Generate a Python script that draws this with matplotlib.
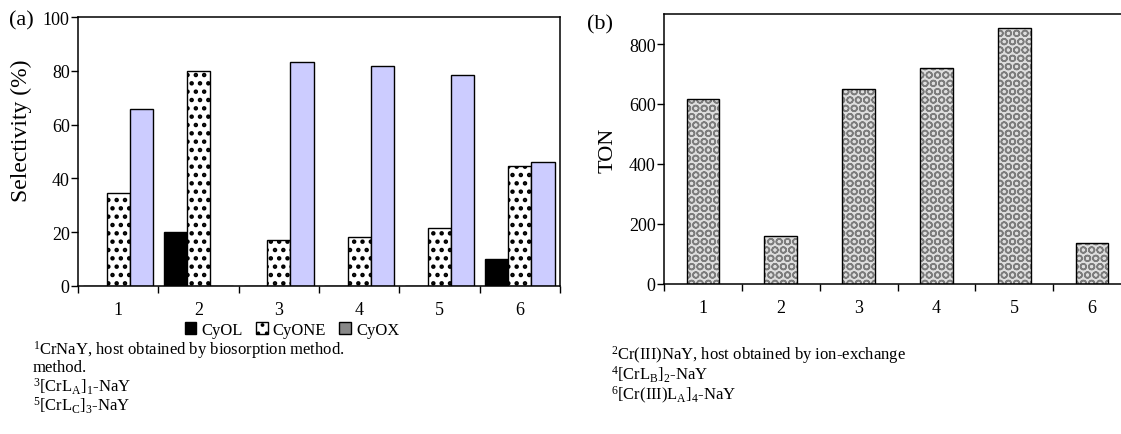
import numpy as np
import matplotlib.pyplot as plt
from matplotlib.patches import Patch

plt.rcParams['font.family'] = ['Liberation Serif', 'DejaVu Serif']
plt.rcParams['mathtext.fontset'] = 'custom'
plt.rcParams['mathtext.rm'] = 'Liberation Serif'
plt.rcParams['mathtext.it'] = 'Liberation Serif:italic'

# datos
categorias = ['1', '2', '3', '4', '5', '6']
cyol = [0, 20.1, 0, 0, 0, 9.8]
cyone = [34.7, 80.0, 17.0, 18.3, 21.6, 44.6]
cyox = [65.8, 0, 83.2, 81.7, 78.6, 46.0]
ton = [618, 160, 651, 719, 855, 138]

notas_a = [r'$^{1}$CrNaY, host obtained by biosorption method.',
           'method.',
           r'$^{3}$[CrL$_{\rm A}$]$_{1}$-NaY',
           r'$^{5}$[CrL$_{\rm C}$]$_{3}$-NaY']
notas_b = [r'$^{2}$Cr(III)NaY, host obtained by ion-exchange',
           r'$^{4}$[CrL$_{\rm B}$]$_{2}$-NaY',
           r'$^{6}$[Cr(III)L$_{\rm A}$]$_{4}$-NaY']

W, H = 1121, 435
fig = plt.figure(figsize=(W / 100, H / 100), dpi=100)

x = np.arange(1, len(categorias) + 1)

# ---- panel (a)
ax1 = fig.add_axes([78 / W, 1 - 286.7 / H, 482 / W, 268.4 / H])
w = 0.29
ax1.bar(x - w, cyol, w, color='black', edgecolor='black', linewidth=1)
plt.rcParams['hatch.linewidth'] = 2.0
ax1.bar(x, cyone, w, color='white', edgecolor='black', linewidth=1, hatch='..')
ax1.bar(x + w, cyox, w, color='#ccccff', edgecolor='black', linewidth=1)
ax1.set_xlim(0.5, 6.5)
ax1.set_ylim(0, 100)
ax1.set_yticks([0, 20, 40, 60, 80, 100])
ax1.set_ylabel('Selectivity (%)', fontsize=17)
ax1.yaxis.set_label_coords(-0.095, 0.58)

# ---- panel (b)
ax2 = fig.add_axes([664 / W, 1 - 285 / H, 467 / W, 270 / H])
w2 = 0.42
plt.rcParams['hatch.linewidth'] = 1.1
ax2.bar(x, ton, w2, color='#dedede', edgecolor='#7c7c7c', linewidth=0, hatch='OO')
ax2.bar(x, ton, w2, fill=False, edgecolor='black', linewidth=1)
ax2.set_xlim(0.5, 6.5)
ax2.set_ylim(0, 900)
ax2.set_yticks([0, 200, 400, 600, 800])
ax2.set_ylabel('TON', fontsize=16)
ax2.yaxis.set_label_coords(-0.10, 0.5)

for ax in (ax1, ax2):
    ax.set_xticks(np.arange(0.5, 7, 1))
    ax.set_xticklabels([])
    ax.set_xticks(x, minor=True)
    ax.set_xticklabels(categorias, minor=True)
    ax.tick_params(axis='x', which='major', direction='out', length=5, width=1)
    ax.tick_params(axis='x', which='minor', length=0, pad=11, labelsize=13)
    ax.tick_params(axis='y', direction='out', length=5, width=1, pad=1, labelsize=13)
    for s in ax.spines.values():
        s.set_linewidth(1.1)

fig.text(21 / W, 1 - 21 / H, '(a)', fontsize=16, ha='center', va='center')
fig.text(600 / W, 1 - 25 / H, '(b)', fontsize=16, ha='center', va='center')

# leyenda
plt.rcParams['hatch.linewidth'] = 1.5
handles = [Patch(facecolor='black', edgecolor='black'),
           Patch(facecolor='white', edgecolor='black', hatch='..'),
           Patch(facecolor='#888888', edgecolor='black')]
fig.legend(handles, ['CyOL', 'CyONE', 'CyOX'], loc='center',
           bbox_to_anchor=(292 / W, 1 - 331 / H), ncol=3, frameon=False,
           fontsize=12, handlelength=0.7, handleheight=0.7,
           handletextpad=0.3, columnspacing=0.8, borderpad=0.1)

# notas al pie
for i, t in enumerate(notas_a):
    fig.text(33 / W, 1 - (350 + 18.5 * i) / H, t, fontsize=12, va='center')
for i, t in enumerate(notas_b):
    fig.text(611 / W, 1 - (355 + 20 * i) / H, t, fontsize=12, va='center')

fig.savefig('out.png', dpi=100)
